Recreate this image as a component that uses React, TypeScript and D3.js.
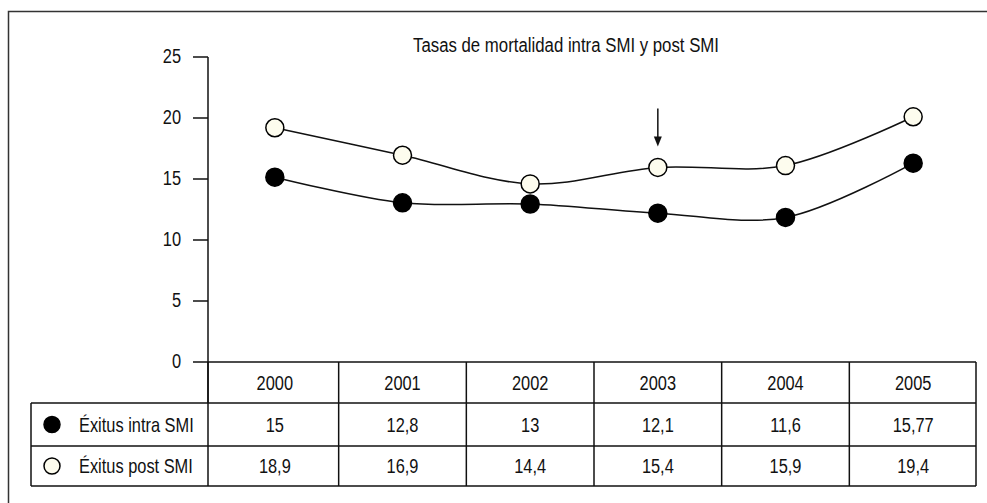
import { useEffect, useRef } from "react"
import * as d3 from "d3"

// datos
const years = ["2000", "2001", "2002", "2003", "2004", "2005"]
const intraPlotted = [15.15, 13.05, 12.95, 12.2, 11.85, 16.3]
const postPlotted = [19.2, 16.95, 14.6, 15.95, 16.1, 20.1]
const intraLabels = ["15", "12,8", "13", "12,1", "11,6", "15,77"]
const postLabels = ["18,9", "16,9", "14,4", "15,4", "15,9", "19,4"]
const yTicks = [0, 5, 10, 15, 20, 25]
const title = "Tasas de mortalidad intra SMI y post SMI"
const seriesNames = ["Éxitus intra SMI", "Éxitus post SMI"]
const arrowYear = "2003"

const FONT = "'Liberation Sans', Arial, sans-serif"
const NARROW = 0.8 // la fuente original es condensada

type Sel = d3.Selection<any, unknown, null, undefined>

// texto estrechado horizontalmente
function addText(parent: Sel, x: number, y: number, str: string, anchor: string, size: number) {
  parent.append("text")
    .attr("transform", `translate(${x},${y}) scale(${NARROW},1)`)
    .attr("dy", "0.35em")
    .attr("text-anchor", anchor)
    .attr("font-family", FONT)
    .attr("font-size", size)
    .attr("fill", "#111")
    .text(str)
}

export default function App() {
  const svgRef = useRef<SVGSVGElement>(null)

  useEffect(() => {
    document.body.style.margin = "0"
    document.body.style.overflow = "hidden"
    const svg = d3.select(svgRef.current) as Sel
    svg.selectAll("*").remove()

    const axisX = 208
    const rows = [362, 403, 446, 486]
    const labelLeft = 31
    const tableRight = 976
    const fs = 20.5

    const x = d3.scaleBand().domain(years).range([211, 977])
    const y = d3.scaleLinear().domain([0, 25]).range([362, 57])
    const cx = (d: string) => (x(d) as number) + x.bandwidth() / 2

    // marco (sólo se ven los bordes izquierdo y superior)
    svg.append("path")
      .attr("d", "M8.5,503 L8.5,11.5 L1000,11.5")
      .attr("fill", "none").attr("stroke", "#333").attr("stroke-width", 1.5)

    // título
    addText(svg, 566, 45, title, "middle", 21)

    // eje Y
    const yAxis = svg.append("g").attr("stroke", "#111").attr("stroke-width", 1.5)
    yAxis.append("line")
      .attr("x1", axisX).attr("x2", axisX)
      .attr("y1", y(25)).attr("y2", rows[1])
    yAxis.selectAll("line.tick")
      .data(yTicks)
      .join("line")
      .attr("class", "tick")
      .attr("x1", axisX - 15).attr("x2", axisX)
      .attr("y1", d => y(d)).attr("y2", d => y(d))
    yTicks.forEach(t => addText(svg, 181, y(t) - 1, String(t), "end", fs))

    // tabla
    const table = svg.append("g").attr("stroke", "#111").attr("stroke-width", 1.5).attr("fill", "none")
    table.append("line").attr("x1", axisX).attr("x2", tableRight).attr("y1", rows[0]).attr("y2", rows[0])
    rows.slice(1).forEach(r => {
      table.append("line").attr("x1", labelLeft).attr("x2", tableRight).attr("y1", r).attr("y2", r)
    })
    table.append("line").attr("x1", labelLeft).attr("x2", labelLeft).attr("y1", rows[1]).attr("y2", rows[3])
    table.selectAll("line.col")
      .data(years.slice(1))
      .join("line")
      .attr("class", "col")
      .attr("x1", d => x(d) as number).attr("x2", d => x(d) as number)
      .attr("y1", rows[0]).attr("y2", rows[3])
    table.append("line").attr("x1", tableRight).attr("x2", tableRight).attr("y1", rows[0]).attr("y2", rows[3])
    table.append("line").attr("x1", axisX).attr("x2", axisX).attr("y1", rows[0]).attr("y2", rows[3])

    const cellRows = [years, intraLabels, postLabels]
    cellRows.forEach((vals, i) => {
      vals.forEach((v, j) => addText(svg, cx(years[j]), (rows[i] + rows[i + 1]) / 2, v, "middle", fs))
    })

    // leyenda en la tabla
    const fills = ["#000", "#fdfcee"]
    seriesNames.forEach((name, i) => {
      const mid = (rows[i + 1] + rows[i + 2]) / 2
      svg.append("circle")
        .attr("cx", 52).attr("cy", mid).attr("r", 8)
        .attr("fill", fills[i]).attr("stroke", "#000").attr("stroke-width", 1.5)
      addText(svg, 79, mid, name, "start", fs)
    })

    // líneas suavizadas
    const line = d3.line<number>()
      .x((_, i) => cx(years[i]))
      .y(d => y(d))
      .curve(d3.curveCatmullRom.alpha(0.5))

    const series = [intraPlotted, postPlotted]
    series.forEach((vals, i) => {
      svg.append("path")
        .datum(vals)
        .attr("fill", "none")
        .attr("stroke", "#111")
        .attr("stroke-width", 1.5)
        .attr("d", line)
      svg.selectAll(`circle.s${i}`)
        .data(vals)
        .join("circle")
        .attr("class", `s${i}`)
        .attr("cx", (_, j) => cx(years[j]))
        .attr("cy", d => y(d))
        .attr("r", 9)
        .attr("fill", fills[i])
        .attr("stroke", "#000")
        .attr("stroke-width", 1.5)
    })

    // flecha sobre 2003
    const ax = cx(arrowYear)
    const ay = y(postPlotted[years.indexOf(arrowYear)])
    svg.append("line")
      .attr("x1", ax).attr("x2", ax)
      .attr("y1", ay - 59).attr("y2", ay - 30)
      .attr("stroke", "#111").attr("stroke-width", 1.5)
    svg.append("path")
      .attr("d", `M${ax - 4},${ay - 31} L${ax + 4},${ay - 31} L${ax},${ay - 21} Z`)
      .attr("fill", "#111")
  }, [])

  return (
    <svg
      ref={svgRef}
      width={987}
      height={503}
      viewBox="0 0 987 503"
      style={{ position: "absolute", left: 0, top: 0, background: "#fff", display: "block", overflow: "hidden" }}
    />
  )
}
